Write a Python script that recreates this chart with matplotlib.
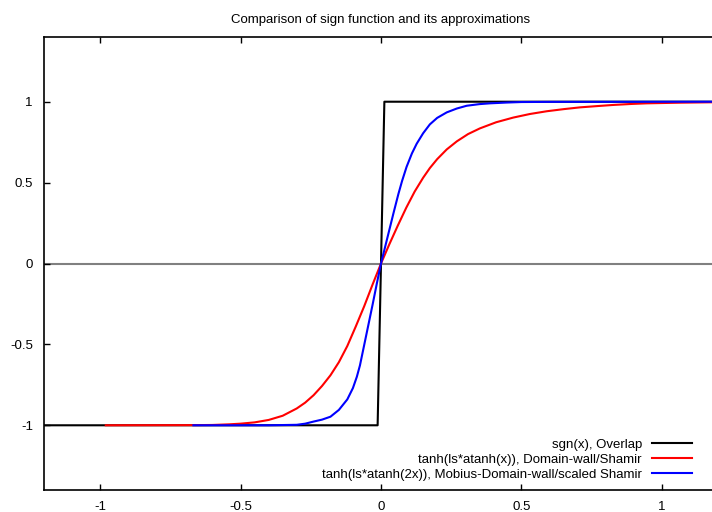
# Sign function vs. its approximations (gnuplot-style look)
import matplotlib
matplotlib.use("Agg")
import matplotlib.pyplot as plt

plt.rcParams['font.family'] = ['Liberation Sans', 'DejaVu Sans']

# values
sgn_x = [-1.2, -0.012, 0.012, 1.2]
sgn_y = [-1.0, -1.0, 1.0, 1.0]

dw_x = [-0.98, -0.66, -0.60, -0.54, -0.50, -0.45, -0.40, -0.35, -0.30, -0.27,
        -0.24, -0.21, -0.18, -0.15, -0.12, -0.09, -0.06, -0.03, 0.0, 0.03,
        0.06, 0.09, 0.12, 0.15, 0.174, 0.20, 0.234, 0.27, 0.31, 0.352,
        0.41, 0.471, 0.53, 0.59, 0.65, 0.708, 0.77, 0.827, 0.89, 0.946,
        1.064, 1.2]
dw_y = [-1.0, -0.999, -0.998, -0.994, -0.99, -0.982, -0.967, -0.941, -0.896, -0.86,
        -0.814, -0.757, -0.691, -0.61, -0.51, -0.39, -0.265, -0.13, 0.0, 0.12,
        0.235, 0.345, 0.445, 0.53, 0.59, 0.645, 0.705, 0.755, 0.80, 0.835,
        0.873, 0.902, 0.924, 0.941, 0.954, 0.965, 0.973, 0.98, 0.986, 0.99,
        0.994, 0.997]

mob_x = [-0.668, -0.40, -0.30, -0.27, -0.24, -0.21, -0.18, -0.15, -0.12, -0.10,
         -0.086, -0.075, -0.063, -0.045, -0.03, -0.015, 0.0, 0.015, 0.03, 0.045,
         0.062, 0.075, 0.091, 0.11, 0.127, 0.15, 0.174, 0.20, 0.234, 0.27,
         0.305, 0.35, 0.388, 0.45, 0.5, 0.6, 1.2]
mob_y = [-1.0, -1.0, -0.997, -0.99, -0.977, -0.965, -0.947, -0.905, -0.84, -0.77,
         -0.70, -0.63, -0.53, -0.38, -0.255, -0.125, 0.0, 0.105, 0.21, 0.315,
         0.43, 0.51, 0.597, 0.68, 0.74, 0.805, 0.86, 0.90, 0.934, 0.958,
         0.975, 0.985, 0.99, 0.995, 0.998, 0.999, 1.0]

labels = ["sgn(x), Overlap",
          "tanh(ls*atanh(x)), Domain-wall/Shamir",
          "tanh(ls*atanh(2x)), Mobius-Domain-wall/scaled Shamir"]
xticks = [-1, -0.5, 0, 0.5, 1]
yticks = [-1, -0.5, 0, 0.5, 1]

fig = plt.figure(figsize=(7.12, 5.12), dpi=100)
# the right border of the frame falls just outside the picture
ax = fig.add_axes([44 / 712, 22 / 512, 674 / 712, 453 / 512])

ax.axhline(0, color='#808080', lw=1.5, zorder=1)
ax.plot(sgn_x, sgn_y, color='black', lw=1.5, label=labels[0], zorder=2)
ax.plot(dw_x, dw_y, color='red', lw=1.5, label=labels[1], zorder=3)
ax.plot(mob_x, mob_y, color='blue', lw=1.5, label=labels[2], zorder=4)

ax.set_xlim(-1.2, 1.2)
ax.set_ylim(-1.4, 1.4)
ax.set_xticks(xticks)
ax.set_yticks(yticks)
ax.set_xticklabels([f"{t:g}" for t in xticks])
ax.set_yticklabels([f"{t:g}" for t in yticks])
ax.tick_params(direction='in', top=True, right=True, length=4, width=1,
               labelsize=9.5, pad=8)
for s in ax.spines.values():
    s.set_linewidth(1.2)

ax.set_title("Comparison of sign function and its approximations",
             fontsize=9.5, pad=10)

ax.legend(loc='lower right', bbox_to_anchor=(0.975, 0.0), markerfirst=False,
          frameon=False, fontsize=9.5, handlelength=3.0, handletextpad=0.8,
          labelspacing=0.2, borderaxespad=0.3)

fig.savefig("out.png", dpi=100)
